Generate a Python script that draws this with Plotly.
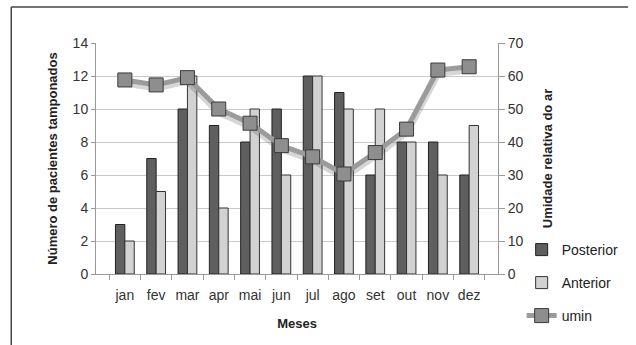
import plotly.graph_objects as go

# Monthly data
meses = ["jan", "fev", "mar", "apr", "mai", "jun", "jul", "ago", "set", "out", "nov", "dez"]
posterior = [3, 7, 10, 9, 8, 10, 12, 11, 6, 8, 8, 6]
anterior = [2, 5, 12, 4, 10, 6, 12, 10, 10, 8, 6, 9]
umin = [58.8, 57.3, 59.5, 50.0, 45.7, 38.9, 35.5, 30.3, 36.8, 43.9, 61.8, 62.8]

W, H = 636, 345
ML, MR, MT, MB = 96, 132, 43, 71
pw, ph = W - ML - MR, H - MT - MB

def px_x(x):
    return (x - ML) / pw

def px_y(y):
    return (H - MB - y) / ph

font_family = "Liberation Sans, Arial, sans-serif"

fig = go.Figure()
fig.add_trace(go.Bar(
    x=meses, y=posterior, name="Posterior",
    marker=dict(color="#5f5f5f", line=dict(color="#222222", width=1)),
    legend="legend",
))
fig.add_trace(go.Bar(
    x=meses, y=anterior, name="Anterior",
    marker=dict(color="#d2d2d2", line=dict(color="#333333", width=1)),
    legend="legend2",
))
# soft shadow under the humidity line
fig.add_trace(go.Scatter(
    x=meses, y=[v - 0.8 for v in umin], yaxis="y2", mode="lines",
    line=dict(color="rgba(90,90,90,0.25)", width=8), hoverinfo="skip",
    showlegend=False,
))
fig.add_trace(go.Scatter(
    x=meses, y=umin, name="umin", yaxis="y2", mode="lines+markers",
    line=dict(color="#9b9b9b", width=5),
    marker=dict(symbol="square", size=14, color="#8e8e8e",
                line=dict(color="#3a3a3a", width=1)),
    legend="legend3",
))

leg_common = dict(
    xanchor="left", yanchor="middle", bgcolor="rgba(0,0,0,0)",
    font=dict(family=font_family, size=14, color="#222222"),
    itemwidth=30,
)

fig.update_layout(
    width=W, height=H,
    margin=dict(l=ML, r=MR, t=MT, b=MB),
    paper_bgcolor="white", plot_bgcolor="white",
    barmode="group", bargap=0.4, bargroupgap=0.0,
    font=dict(family=font_family, size=13, color="#333333"),
    xaxis=dict(
        tickson="boundaries", ticks="outside", ticklen=5, tickcolor="#999999",
        showline=True, linecolor="#999999", linewidth=1, tickangle=0,
        ticklabelstandoff=8,
        tickfont=dict(size=14, color="#333333"),
        title=dict(text="<b>Meses</b>", font=dict(size=13, color="#222222"), standoff=17),
    ),
    yaxis=dict(
        range=[0, 14], dtick=2, showgrid=True, gridcolor="#c9c9c9", gridwidth=1,
        showline=True, linecolor="#999999", linewidth=1,
        ticks="outside", ticklen=4, tickcolor="#999999",
        tickfont=dict(size=14, color="#333333"), zeroline=False,
        title=dict(text="<b>Número de pacientes tamponados</b>",
                   font=dict(size=13, color="#222222"), standoff=12),
    ),
    yaxis2=dict(
        range=[0, 70], dtick=10, overlaying="y", side="right", showgrid=False,
        showline=True, linecolor="#999999", linewidth=1,
        ticks="outside", ticklen=6, tickcolor="#999999",
        tickfont=dict(size=14, color="#333333"), zeroline=False,
        title=dict(text="<b>Umidade relativa do ar</b>",
                   font=dict(size=13, color="#222222"), standoff=20),
    ),
    legend=dict(x=px_x(528), y=px_y(250), **leg_common),
    legend2=dict(x=px_x(528), y=px_y(283), **leg_common),
    legend3=dict(x=px_x(528), y=px_y(316), **leg_common),
    shapes=[
        dict(type="line", xref="paper", yref="paper",
             x0=px_x(10), x1=px_x(W), y0=px_y(7), y1=px_y(7),
             line=dict(color="#444444", width=1.5)),
        dict(type="line", xref="paper", yref="paper",
             x0=px_x(10), x1=px_x(10), y0=px_y(7), y1=px_y(H),
             line=dict(color="#444444", width=1.5)),
    ],
)

fig.write_html("out.html")
